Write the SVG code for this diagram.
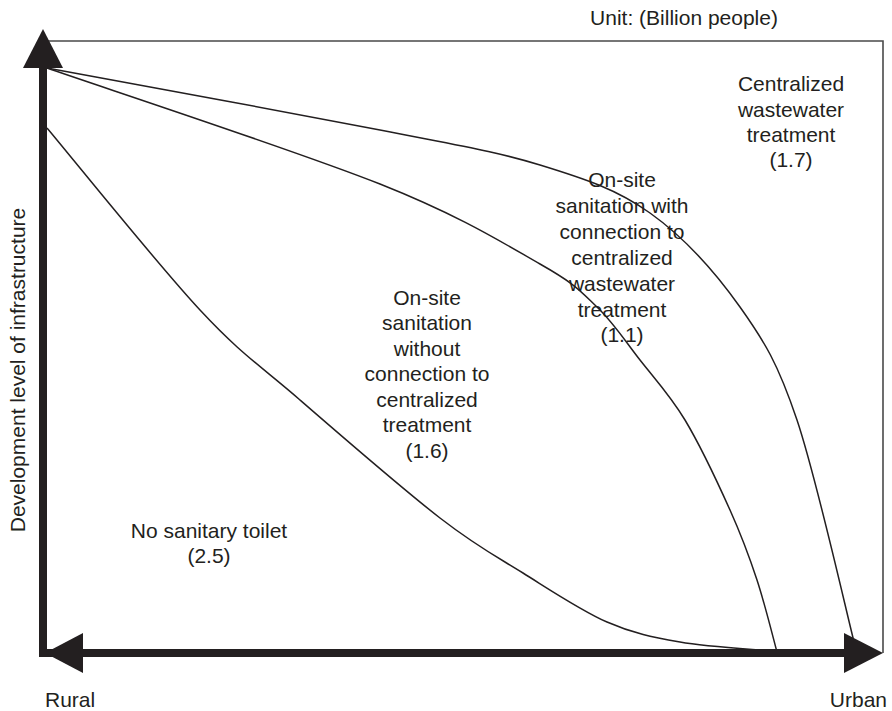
<svg xmlns="http://www.w3.org/2000/svg" width="892" height="711" viewBox="0 0 892 711">
<style>
.t{font-family:"Liberation Sans",Arial,sans-serif;font-size:21px;fill:#231f20;text-anchor:middle}
.c{fill:none;stroke:#231f20;stroke-width:1.5}
.ax{fill:#231f20}
</style>
<rect width="892" height="711" fill="#fff"/>
<g id="frame">
<polyline points="43,41 883,41 883,653" fill="none" stroke="#4a4a4a" stroke-width="1.6"/>
</g>
<g id="connectors">
<path class="c" d="M47,68 C102.5,78.3 297.8,113.8 380,130 C462.2,146.2 495,151.2 540,165 C585,178.8 616.7,189.3 650,213 C683.3,236.7 715.5,272.5 740,307 C764.5,341.5 777.7,362.8 797,420 C816.3,477.2 846.2,611.7 856,650"/>
<path class="c" d="M47,68 C102.5,87.3 297.8,151.3 380,184 C462.2,216.7 503.8,243.5 540,264 C576.2,284.5 580.3,291 597,307 C613.7,323 625.3,341.2 640,360 C654.7,378.8 670,395 685,420 C700,445 718,483.3 730,510 C742,536.7 749.2,556.3 757,580 C764.8,603.7 773.7,640 777,652"/>
<path class="c" d="M47,128 C72.5,158.3 157.8,264.7 200,310 C242.2,355.3 260,365.3 300,400 C340,434.7 402.8,489.2 440,518 C477.2,546.8 495.2,555.7 523,573 C550.8,590.3 580.8,610.5 607,622 C633.2,633.5 652.8,637.2 680,642 C707.2,646.8 755,649.5 770,651"/>
</g>
<g id="axes">
<rect class="ax" x="39" y="66" width="8" height="591"/>
<rect class="ax" x="39" y="649" width="807" height="8"/>
<polygon class="ax" points="43,29 23,68 63,68"/>
<polygon class="ax" points="883,653 844,633 844,673"/>
<polygon class="ax" points="45,653 83,633 83,673"/>
</g>
<g id="unit"><text class="t" x="684" y="25">Unit: (Billion people)</text></g>
<g id="centralized">
<text class="t" x="791" y="91">Centralized</text>
<text class="t" x="791" y="117">wastewater</text>
<text class="t" x="791" y="142">treatment</text>
<text class="t" x="791" y="167">(1.7)</text>
</g>
<g id="onsite-with">
<text class="t" x="622" y="187">On-site</text>
<text class="t" x="622" y="213">sanitation with</text>
<text class="t" x="622" y="239">connection to</text>
<text class="t" x="622" y="265">centralized</text>
<text class="t" x="622" y="291">wastewater</text>
<text class="t" x="622" y="317">treatment</text>
<text class="t" x="622" y="342">(1.1)</text>
</g>
<g id="onsite-without">
<text class="t" x="427" y="305">On-site</text>
<text class="t" x="427" y="330">sanitation</text>
<text class="t" x="427" y="356">without</text>
<text class="t" x="427" y="381">connection to</text>
<text class="t" x="427" y="407">centralized</text>
<text class="t" x="427" y="432">treatment</text>
<text class="t" x="427" y="458">(1.6)</text>
</g>
<g id="no-toilet">
<text class="t" x="209" y="538">No sanitary toilet</text>
<text class="t" x="209" y="563">(2.5)</text>
</g>
<g id="labels">
<text class="t" x="25" y="370" transform="rotate(-90 25 370)">Development level of infrastructure</text>
<text class="t" x="45" y="707" style="text-anchor:start">Rural</text>
<text class="t" x="887" y="707" style="text-anchor:end">Urban</text>
</g>
</svg>
